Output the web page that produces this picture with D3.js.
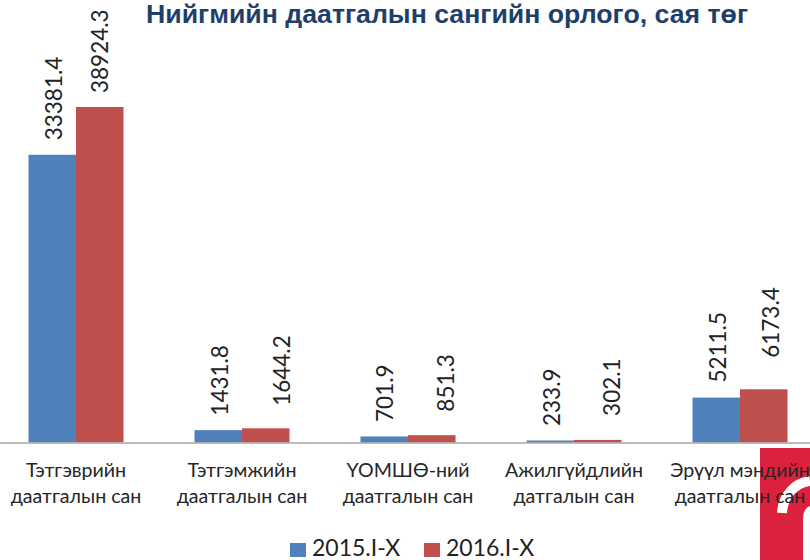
<!DOCTYPE html>
<html>
<head>
<meta charset="utf-8">
<script src="https://cdn.jsdelivr.net/npm/d3@7"></script>
<style>
html, body { margin: 0; padding: 0; background: #fff; overflow: hidden; }
svg { display: block; }
</style>
</head>
<body>
<div id="chart"></div>
<script>
'use strict';

let categories = [
    ['Тэтгэврийн', 'даатгалын сан'],
    ['Тэтгэмжийн', 'даатгалын сан'],
    ['ҮОМШӨ-ний', 'даатгалын сан'],
    ['Ажилгүйдлийн', 'датгалын сан'],
    ['Эрүүл мэндийн', 'даатгалын сан']
];
let series_names = ['2015.I-X', '2016.I-X'];
let series_colours = ['#4f81bd', '#c0504d'];
let values_2015 = [33381.4, 1431.8, 701.9, 233.9, 5211.5];
let values_2016 = [38924.3, 1644.2, 851.3, 302.1, 6173.4];

let width = 810, height = 560;
let base_y = 442.5;
let label_font = 'Lato, "Open Sans", sans-serif';

// the value labels were dragged by hand in the original, so each one has its own nudge
let label_nudge_x = [[0, 0.5, -1, 0, 0], [-1.5, 14.5, 12.5, 12.5, 6]];
let label_gap = [[14.5, 14.5, 14.5, 14.5, 15], [14, 22.5, 23.5, 24, 31.5]];

let svg = d3.select('#chart').append('svg')
    .attr('width', width)
    .attr('height', height);

let x = d3.scaleBand()
    .domain(d3.range(categories.length))
    .range([-7, 823])
    .paddingInner(0)
    .paddingOuter(0);

let x_inner = d3.scaleBand()
    .domain([0, 1])
    .range([35.5, 130.5]);

let y = d3.scaleLinear()
    .domain([0, 38924.3])
    .range([base_y, 107]);

// watermark in the bottom right corner, drawn first so the labels sit on top
let logo = svg.append('g');
logo.append('rect')
    .attr('x', 760).attr('y', 448)
    .attr('width', 50).attr('height', 112)
    .attr('fill', '#dc213e');
logo.append('path')
    .attr('d', 'M 782 513 C 783 495 795 483 810 481')
    .attr('fill', 'none')
    .attr('stroke', '#fff')
    .attr('stroke-width', 10);
logo.append('path')
    .attr('d', 'M 803 560 L 803 520 Q 803 508 810 506 L 810 560 Z')
    .attr('fill', '#fff');

// title
svg.append('text')
    .attr('x', 447)
    .attr('y', 23)
    .attr('text-anchor', 'middle')
    .attr('font-family', '"Liberation Sans", Arial, sans-serif')
    .attr('font-weight', 'bold')
    .attr('font-size', 26.7)
    .attr('fill', '#1f3f6b')
    .text('Нийгмийн даатгалын сангийн орлого, сая төг');

// bars and their value labels
[values_2015, values_2016].forEach(function(vals, s) {
    let g = svg.append('g');
    g.selectAll('rect')
        .data(vals)
        .enter().append('rect')
        .attr('x', function(d, i) { return x(i) + x_inner(s); })
        .attr('y', function(d) { return y(d); })
        .attr('width', x_inner.bandwidth())
        .attr('height', function(d) { return base_y - y(d); })
        .attr('fill', series_colours[s]);

    g.selectAll('text')
        .data(vals)
        .enter().append('text')
        .attr('transform', function(d, i) {
            let cx = x(i) + x_inner(s) + x_inner.bandwidth() / 2 + label_nudge_x[s][i];
            return 'translate(' + (cx + 9.5) + ',' + (y(d) - label_gap[s][i]) + ') rotate(-90)';
        })
        .attr('font-family', label_font)
        .attr('font-size', 22.5)
        .attr('fill', '#222')
        .text(function(d) { return d3.format('.1f')(d); });
});

// baseline
svg.append('line')
    .attr('x1', 0).attr('x2', width)
    .attr('y1', base_y + 0.5).attr('y2', base_y + 0.5)
    .attr('stroke', '#a6a6a6')
    .attr('stroke-width', 1.5);

// category labels
let cat = svg.append('g').selectAll('g')
    .data(categories)
    .enter().append('g')
    .attr('transform', function(d, i) { return 'translate(' + (x(i) + x.bandwidth() / 2) + ',0)'; });

cat.selectAll('text')
    .data(function(d) { return d; })
    .enter().append('text')
    .attr('y', function(d, i) { return 477 + i * 26; })
    .attr('text-anchor', 'middle')
    .attr('font-family', label_font)
    .attr('font-size', 19.6)
    .attr('fill', '#262626')
    .text(function(d) { return d; });

// legend
let legend_x = [290, 424];
series_names.forEach(function(name, i) {
    svg.append('rect')
        .attr('x', legend_x[i]).attr('y', 543)
        .attr('width', 16).attr('height', 14)
        .attr('fill', series_colours[i]);
    svg.append('text')
        .attr('x', legend_x[i] + 22)
        .attr('y', 555.5)
        .attr('font-family', label_font)
        .attr('font-size', 23)
        .attr('fill', '#222')
        .text(name);
});
</script>
</body>
</html>
